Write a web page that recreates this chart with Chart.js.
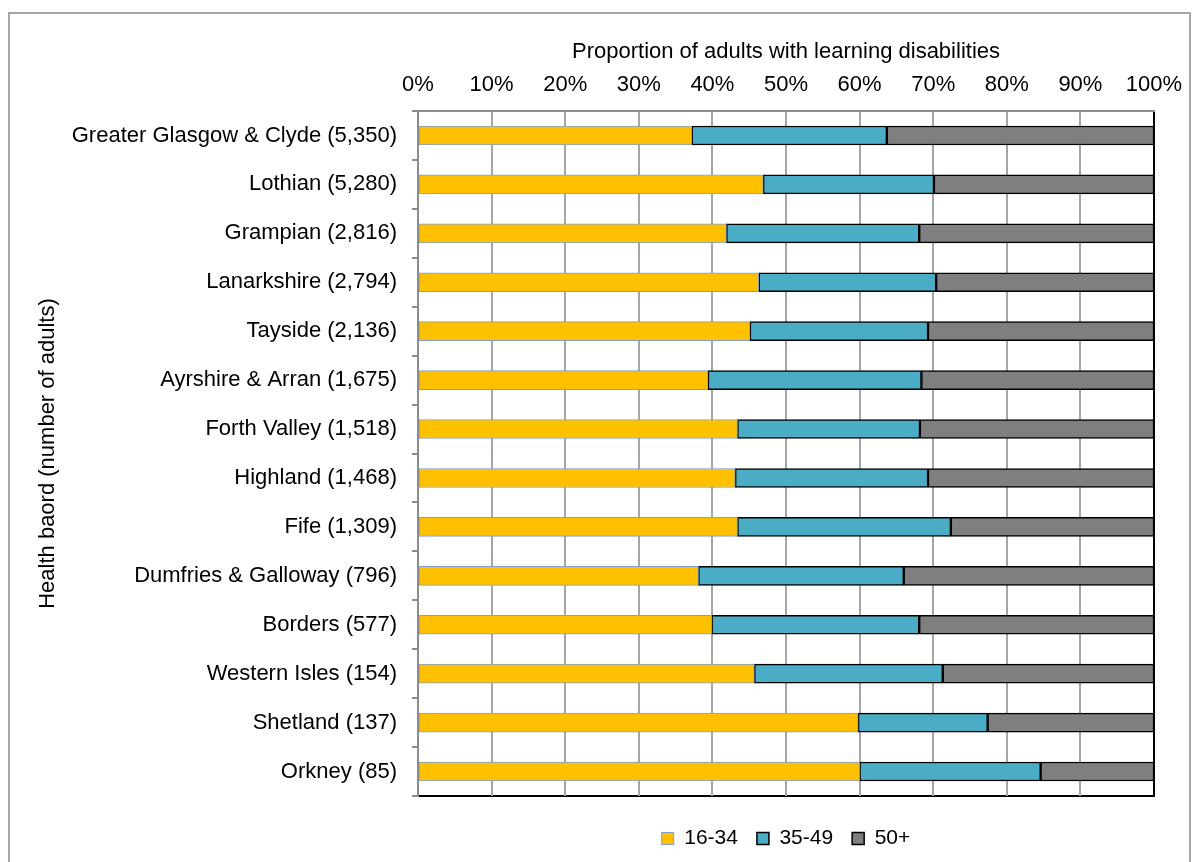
<!DOCTYPE html>
<html>
<head>
<meta charset="utf-8">
<title>Adults with learning disabilities by health board</title>
<script src="https://cdn.jsdelivr.net/npm/chart.js@4.4.0/dist/chart.umd.min.js"></script>
<style>
  html, body { margin: 0; padding: 0; background: #fff; }
  #wrap { position: relative; width: 1200px; height: 862px; overflow: hidden; }
  #frame { position: absolute; left: 8px; top: 12px; width: 1183px; height: 900px; border: 2px solid #a6a6a6; box-sizing: border-box; }
  #chart { position: absolute; left: 0; top: 0; }
</style>
</head>
<body>
<div id="wrap">
  <div id="frame"></div>
  <canvas id="chart" width="1200" height="862"></canvas>
</div>
<script>
// health boards, largest first
const boards = [
  'Greater Glasgow & Clyde (5,350)',
  'Lothian (5,280)',
  'Grampian (2,816)',
  'Lanarkshire (2,794)',
  'Tayside (2,136)',
  'Ayrshire & Arran (1,675)',
  'Forth Valley (1,518)',
  'Highland (1,468)',
  'Fife (1,309)',
  'Dumfries & Galloway (796)',
  'Borders (577)',
  'Western Isles (154)',
  'Shetland (137)',
  'Orkney (85)'
];

// share of adults in each age group (%)
const age16to34 = [37.2, 46.9, 41.9, 46.3, 45.1, 39.4, 43.4, 43.1, 43.4, 38.1, 39.9, 45.7, 59.8, 60.0];
const age35to49 = [26.5, 23.2, 26.2, 24.1, 24.2, 29.0, 24.8, 26.2, 29.0, 27.9, 28.2, 25.6, 17.6, 24.6];
const age50plus = [36.3, 29.9, 31.9, 29.6, 30.7, 31.6, 31.8, 30.7, 27.6, 34.0, 31.9, 28.7, 22.6, 15.4];

const xTicks = [0, 10, 20, 30, 40, 50, 60, 70, 80, 90, 100];

Chart.defaults.font.family = '"Liberation Sans", Arial, sans-serif';
Chart.defaults.font.size = 22;
Chart.defaults.color = '#000';

// black frame round the plot area, drawn under the axes
const plotFrame = {
  id: 'plotFrame',
  beforeDraw(chart) {
    const a = chart.chartArea;
    const ctx = chart.ctx;
    ctx.save();
    ctx.strokeStyle = '#000';
    ctx.lineWidth = 2;
    ctx.strokeRect(a.left, a.top, a.right - a.left, a.bottom - a.top);
    ctx.restore();
  }
};

new Chart(document.getElementById('chart'), {
  type: 'bar',
  data: {
    labels: boards,
    datasets: [
      {
        label: '16-34',
        data: age16to34,
        backgroundColor: '#ffc000',
        borderColor: '#7da0d4',
        borderWidth: 1,
        borderSkipped: false
      },
      {
        label: '35-49',
        data: age35to49,
        backgroundColor: '#4bacc6',
        borderColor: '#000',
        borderWidth: 1.5,
        borderSkipped: false
      },
      {
        label: '50+',
        data: age50plus,
        backgroundColor: '#7f7f7f',
        borderColor: '#000',
        borderWidth: 1.5,
        borderSkipped: false
      }
    ]
  },
  options: {
    indexAxis: 'y',
    responsive: false,
    devicePixelRatio: 1,
    animation: false,
    barThickness: 19,
    layout: {
      padding: { top: 28, left: 20, right: 46, bottom: 3 }
    },
    plugins: {
      tooltip: { enabled: false },
      legend: {
        position: 'bottom',
        fullSize: false,
        // empty title only used as a spacer above the legend row
        title: { display: true, text: '', padding: 0, font: { size: 13, lineHeight: 1 } },
        labels: {
          boxWidth: 12,
          boxHeight: 12,
          padding: 19,
          font: { size: 21 }
        }
      }
    },
    scales: {
      x: {
        position: 'top',
        stacked: true,
        min: 0,
        max: 100,
        afterBuildTicks: (axis) => {
          axis.ticks = xTicks.map(v => ({ value: v }));
        },
        afterFit: (axis) => { axis.height = 111 - 28; },
        ticks: {
          padding: 13,
          callback: (v) => v + '%'
        },
        grid: {
          drawTicks: false,
          lineWidth: 2,
          color: (c) => (c.tick && c.tick.value === 100) ? '#000' : '#a6a6a6'
        },
        border: { color: '#8c8c8c', width: 2 },
        title: {
          display: true,
          text: 'Proportion of adults with learning disabilities',
          padding: { top: 11, bottom: 0 }
        }
      },
      y: {
        stacked: true,
        afterFit: (axis) => { axis.width = 418 - 20; },
        ticks: { padding: 15 },
        grid: {
          drawOnChartArea: false,
          drawTicks: true,
          tickLength: 6,
          lineWidth: 2,
          color: '#8c8c8c'
        },
        border: { color: '#8c8c8c', width: 2 },
        title: {
          display: true,
          text: 'Health baord (number of adults)',
          padding: { top: 15, bottom: 0 }
        }
      }
    }
  },
  plugins: [plotFrame]
});
</script>
</body>
</html>
